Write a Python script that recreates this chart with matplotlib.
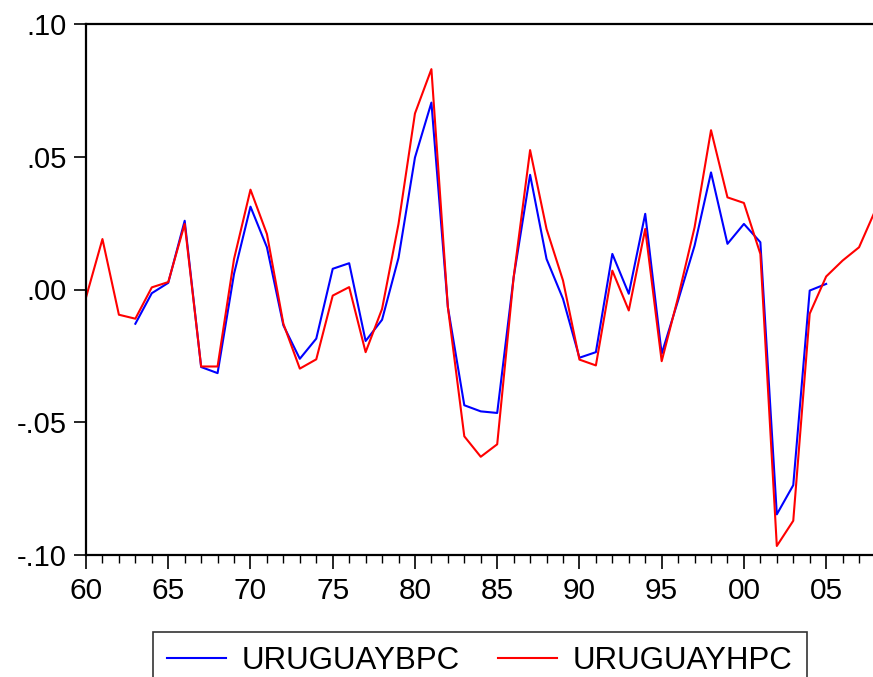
import numpy as np
import matplotlib
matplotlib.use('Agg')
import matplotlib.pyplot as plt
from matplotlib.ticker import MultipleLocator, FixedLocator

# data
years_h = np.arange(1960, 2009)
uruguay_hpc = [-0.003, 0.019, -0.0095, -0.011, 0.0008, 0.0028, 0.0247, -0.029,
               -0.029, 0.0115, 0.0376, 0.0209, -0.0129, -0.0298, -0.0263, -0.0023,
               0.0009, -0.0236, -0.0073, 0.0247, 0.0663, 0.083, -0.0066, -0.0553,
               -0.063, -0.0583, 0.0046, 0.0525, 0.0228, 0.0034, -0.0264, -0.0286,
               0.0071, -0.0079, 0.0228, -0.027, -0.0029, 0.0234, 0.060, 0.0347,
               0.0326, 0.0134, -0.0966, -0.0871, -0.0091, 0.0049, 0.0109, 0.0159,
               0.030]

years_b = np.arange(1963, 2006)
uruguay_bpc = [-0.0129, -0.0014, 0.0025, 0.0259, -0.0292, -0.0315, 0.0059, 0.0312,
               0.0159, -0.0135, -0.0261, -0.0185, 0.0078, 0.0099, -0.0194, -0.0114,
               0.0119, 0.0497, 0.0704, -0.0066, -0.0436, -0.0459, -0.0465, 0.0046,
               0.0432, 0.0115, -0.0035, -0.0257, -0.0236, 0.0134, -0.0016, 0.0285,
               -0.0242, -0.0041, 0.0165, 0.0441, 0.0172, 0.0247, 0.0178, -0.0847,
               -0.0737, -0.0004, 0.0021]

y_ticks = [-0.10, -0.05, 0.0, 0.05, 0.10]
y_labels = ['-.10', '-.05', '.00', '.05', '.10']
x_ticks = list(range(1960, 2006, 5))
x_labels = ['60', '65', '70', '75', '80', '85', '90', '95', '00', '05']

plt.rcParams['font.family'] = ['Liberation Sans', 'DejaVu Sans']

W, H = 873, 677
fig = plt.figure(figsize=(W / 100, H / 100), dpi=100)
ax = fig.add_axes([86 / W, (H - 555) / H, (875.5 - 86) / W, (555 - 24) / H])

ax.plot(years_b, uruguay_bpc, color='#0000ff', lw=1.5, label='URUGUAYBPC')
ax.plot(years_h, uruguay_hpc, color='#ff0000', lw=1.5, label='URUGUAYHPC')

ax.set_xlim(1960, 2008)
ax.set_ylim(-0.10, 0.10)

ax.yaxis.set_major_locator(FixedLocator(y_ticks))
ax.set_yticklabels(y_labels)
ax.xaxis.set_major_locator(FixedLocator(x_ticks))
ax.set_xticklabels(x_labels)
ax.xaxis.set_minor_locator(MultipleLocator(1))

ax.tick_params(axis='y', direction='out', length=9, width=1.2, labelsize=21, pad=5)
ax.tick_params(axis='x', which='major', direction='out', length=10, width=1.2,
               labelsize=21.5, pad=6)
ax.tick_params(axis='x', which='minor', direction='out', length=6, width=1.0)

for s in ax.spines.values():
    s.set_linewidth(1.6)

leg = fig.legend(loc='upper left', bbox_to_anchor=(153 / W, 1 - 632 / H), ncol=2,
                 fontsize=22.5, frameon=True, fancybox=False, edgecolor='black',
                 handlelength=1.9, handletextpad=0.5, columnspacing=1.2,
                 borderpad=0.45, borderaxespad=0)
leg.get_frame().set_linewidth(1.2)

fig.savefig('out.png', dpi=100)
